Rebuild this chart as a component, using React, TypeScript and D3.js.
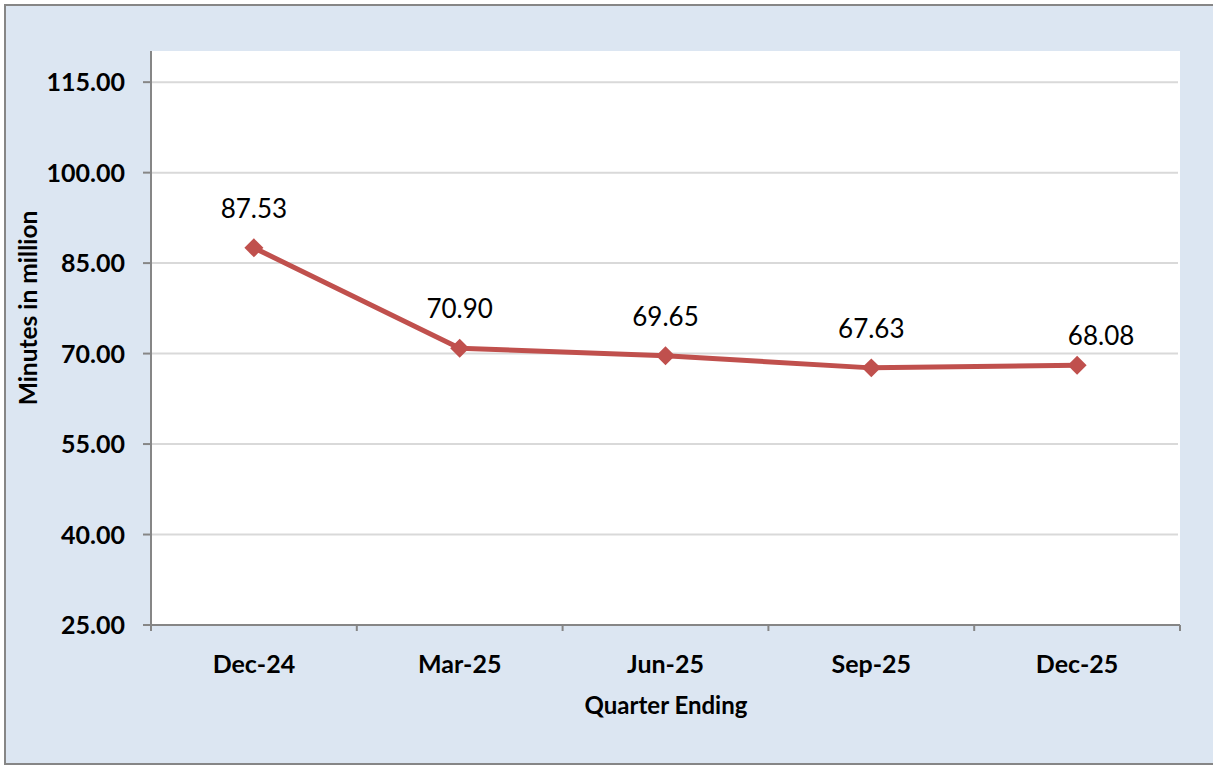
import React from "react";
import * as d3 from "d3";

const categories: string[] = ["Dec-24", "Mar-25", "Jun-25", "Sep-25", "Dec-25"];
const values: number[] = [87.53, 70.9, 69.65, 67.63, 68.08];
const yTicks: number[] = [25, 40, 55, 70, 85, 100, 115];
const yTitle = "Minutes in million";
const xTitle = "Quarter Ending";

const W = 1213;
const H = 766;
const plot = { left: 151, right: 1180, top: 52, bottom: 625 };
const FONT = "Lato, 'Open Sans', sans-serif";
const LINE = "#C0504D";
// label nudges (Excel shifted the last label to the right to avoid clipping)
const labelDx: number[] = [0, 0, 0, 0, 24];
const labelDy: number[] = [-30, -30, -30, -30, -20];

export default function App() {
  const x = d3.scaleBand<string>().domain(categories).range([plot.left, plot.right]).padding(0);
  const y = d3.scaleLinear().domain([25, 120]).range([plot.bottom, plot.top]);
  const cx = (c: string) => (x(c) as number) + x.bandwidth() / 2;
  const line = d3
    .line<number>()
    .x((_, i) => cx(categories[i]))
    .y((d) => y(d));
  const diamond = d3.symbol().type(d3.symbolDiamond2).size(230)() as string;
  const boundaries = [...categories.map((c) => x(c) as number), plot.right];

  return (
    <svg
      width={W}
      height={H}
      style={{ position: "absolute", left: 0, top: 0, display: "block" }}
      fontFamily={FONT}
    >
      <rect x={0} y={0} width={W} height={H} fill="#ffffff" />
      <rect x={5} y={5} width={W + 20} height={759} fill="#DCE6F2" stroke="#868686" strokeWidth={2} />
      <rect x={plot.left} y={plot.top - 1} width={plot.right - plot.left} height={plot.bottom - plot.top + 1} fill="#ffffff" />
      {yTicks.map((t) => (
        <g key={t}>
          {t !== 25 && (
            <line x1={plot.left} x2={plot.right - 2} y1={y(t)} y2={y(t)} stroke="#D9D9D9" strokeWidth={2} />
          )}
          <line x1={plot.left - 8} x2={plot.left} y1={y(t)} y2={y(t)} stroke="#868686" strokeWidth={2} />
          <text
            x={125}
            y={y(t)}
            dy="0.36em"
            textAnchor="end"
            fontSize={25}
            fontWeight="bold"
            fill="#000"
          >
            {t.toFixed(2)}
          </text>
        </g>
      ))}
      <line x1={plot.left} x2={plot.left} y1={plot.top - 1} y2={plot.bottom + 6} stroke="#868686" strokeWidth={2} />
      <line x1={plot.left} x2={plot.right} y1={plot.bottom} y2={plot.bottom} stroke="#868686" strokeWidth={2} />
      {boundaries.map((b, i) => (
        <line key={i} x1={b} x2={b} y1={plot.bottom} y2={plot.bottom + 6} stroke="#868686" strokeWidth={2} />
      ))}
      {categories.map((c) => (
        <text key={c} x={cx(c)} y={673} textAnchor="middle" fontSize={25} fontWeight="bold" fill="#000">
          {c}
        </text>
      ))}
      <text x={666} y={714} textAnchor="middle" fontSize={24} fontWeight="bold" fill="#000">
        {xTitle}
      </text>
      <text
        transform={`translate(37, 308) rotate(-90)`}
        textAnchor="middle"
        fontSize={24.5}
        fontWeight="bold"
        fill="#000"
      >
        {yTitle}
      </text>
      <path d={line(values) as string} fill="none" stroke={LINE} strokeWidth={5} strokeLinejoin="round" />
      {values.map((v, i) => (
        <path key={i} d={diamond} transform={`translate(${cx(categories[i])},${y(v)})`} fill={LINE} />
      ))}
      {values.map((v, i) => (
        <text
          key={"l" + i}
          x={cx(categories[i]) + labelDx[i]}
          y={y(v) + labelDy[i]}
          textAnchor="middle"
          fontSize={26}
          fill="#000"
        >
          {v.toFixed(2)}
        </text>
      ))}
    </svg>
  );
}
